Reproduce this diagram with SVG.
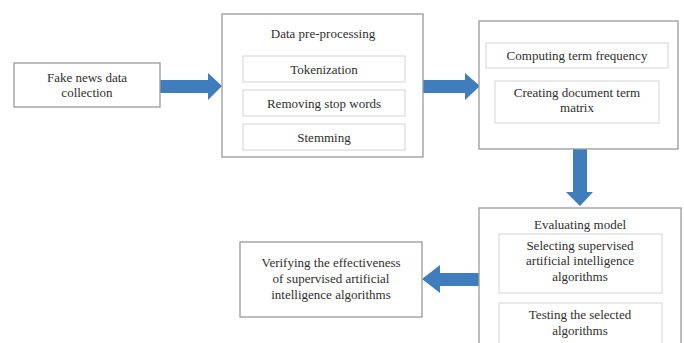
<svg xmlns="http://www.w3.org/2000/svg" width="684" height="343" viewBox="0 0 684 343">
<style>
.outer{fill:#fff;stroke:#9a9a9a;stroke-width:1.3}
.inner{fill:#fff;stroke:#d4d4d4;stroke-width:1}
text{font-family:"Liberation Serif","Times New Roman",serif;font-size:13px;fill:#2e2e2e;text-anchor:middle}
.arrow{fill:#3f7dbd}
</style>
<rect width="684" height="343" fill="#fff"/>
<g id="connectors">
<polygon class="arrow" points="160,80 208,80 208,73 222,86 208,100 208,93 160,93"/>
<polygon class="arrow" points="423,80 465,80 465,73 480,86 465,100 465,93 423,93"/>
<polygon class="arrow" points="573,149 587,149 587,192 593,192 580,206 566,192 573,192"/>
<polygon class="arrow" points="479,273 440,273 440,265 422,279 440,293 440,286 479,286"/>
</g>
<g id="n1">
<rect class="outer" x="14" y="63" width="146" height="44"/>
<text x="87" y="82">Fake news data</text>
<text x="87" y="97">collection</text>
</g>
<g id="n2">
<rect class="outer" x="222" y="14" width="201" height="143"/>
<text x="323" y="38">Data pre-processing</text>
<rect class="inner" x="243" y="56" width="162" height="26"/>
<text x="324" y="74">Tokenization</text>
<rect class="inner" x="243" y="90" width="162" height="26"/>
<text x="324" y="108">Removing stop words</text>
<rect class="inner" x="243" y="124" width="162" height="26"/>
<text x="324" y="142">Stemming</text>
</g>
<g id="n3">
<rect class="outer" x="479" y="21" width="199" height="128"/>
<rect class="inner" x="486" y="43" width="182" height="25"/>
<text x="577" y="60">Computing term frequency</text>
<rect class="inner" x="495" y="81" width="164" height="42"/>
<text x="577" y="97">Creating document term</text>
<text x="577" y="112">matrix</text>
</g>
<g id="n4">
<rect class="outer" x="479" y="208" width="202" height="140"/>
<text x="580" y="229">Evaluating model</text>
<rect class="inner" x="499" y="234" width="163" height="59"/>
<text x="580" y="250">Selecting supervised</text>
<text x="580" y="265">artificial intelligence</text>
<text x="580" y="281">algorithms</text>
<rect class="inner" x="499" y="303" width="163" height="45"/>
<text x="580" y="319">Testing the selected</text>
<text x="580" y="335">algorithms</text>
</g>
<g id="n5">
<rect class="outer" x="240" y="242" width="182" height="75"/>
<text x="331" y="267">Verifying the effectiveness</text>
<text x="331" y="283">of supervised artificial</text>
<text x="331" y="299">intelligence algorithms</text>
</g>
</svg>
